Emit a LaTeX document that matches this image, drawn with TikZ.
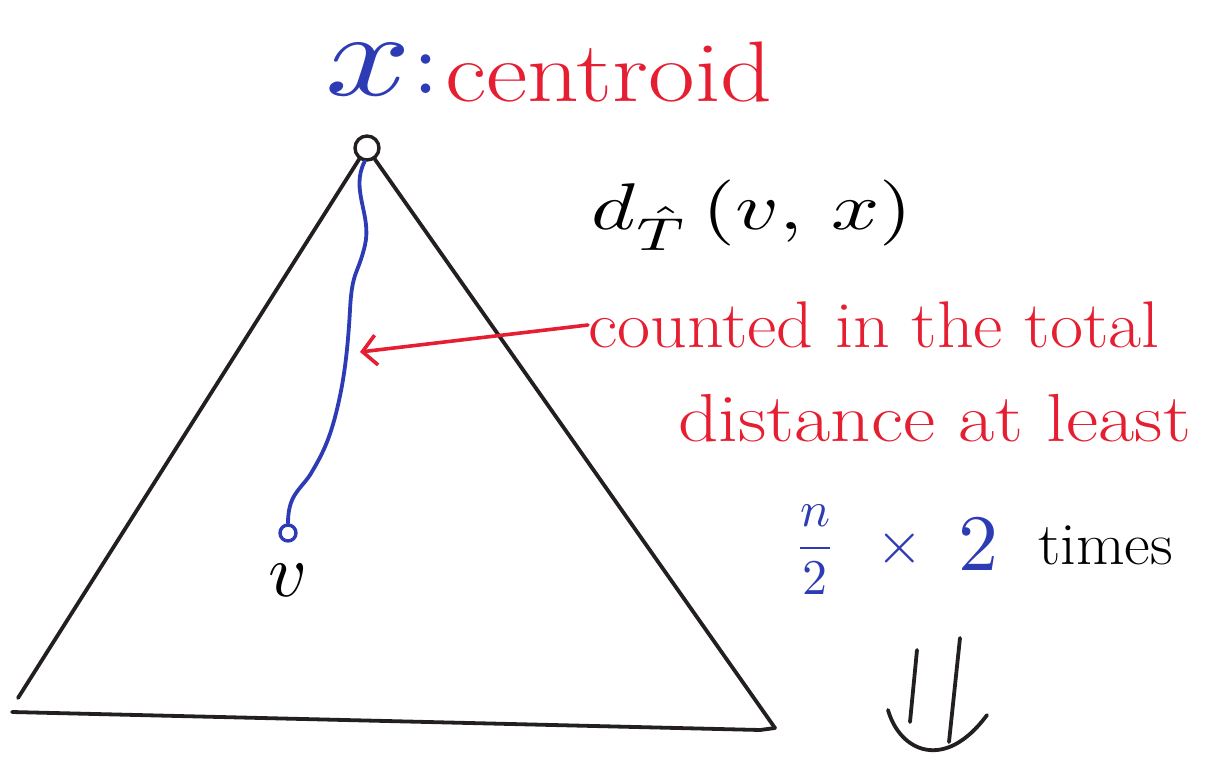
\documentclass[tikz,border=0pt]{standalone}
\usetikzlibrary{arrows.meta}
\definecolor{pen}{RGB}{35,31,32}
\definecolor{redpen}{RGB}{230,30,50}
\definecolor{bluepen}{RGB}{45,60,180}
\begin{document}
\begin{tikzpicture}[x=1pt,y=-1pt,
  line/.style={draw=pen,line width=3.8pt,line cap=round},
  bline/.style={draw=bluepen,line width=3.8pt,line cap=round,line join=round},
  vcirc/.style={circle,draw,line width=3.4pt,inner sep=0pt,minimum size=#1},
  lbl/.style={inner sep=0pt,anchor=west}]
\useasboundingbox (0,0) rectangle (1232,765);
% triangle
\node[vcirc=24pt,draw=pen] (xc) at (367,148) {};
\coordinate (bl) at (18,698);
\coordinate (bl2) at (12,712);
\coordinate (br) at (775,728);
\draw[line] (xc.-125) -- (bl);
\draw[line] (xc.-55) -- (br);
\draw[line] (bl2) -- (760,730) -- (br);
% blue path
\node[vcirc=16pt,draw=bluepen] (vc) at (288,533) {};
\draw[bline] (xc.-100) .. controls (350,190) and (372,215) .. (365,245)
  .. controls (358,275) and (352,270) .. (350,310)
  .. controls (348,345) and (345,375) .. (338,405)
  .. controls (330,440) and (322,455) .. (310,475)
  .. controls (300,490) and (288,495) .. (vc.north);
\node[scale=7.5] (vl) at (288,580) {$v$};
% top label
\node[scale=12,xscale=1.25,text=bluepen] (xlab) at (368,70) {$x$};
\node[scale=9,text=bluepen] (colon) at (426,74) {:};
\node[lbl,text=redpen,xscale=1.18] (cent) at (445,72) {\fontsize{86}{100}\selectfont centroid};
% distance
\node[lbl,scale=6.6,xscale=1.28] (dlab) at (590,215) {$d_{\hat T}\,(v,\,x)$};
\node[lbl,text=redpen,xscale=1.09] (c1) at (588,325) {\fontsize{66}{80}\selectfont counted in the total};
\node[lbl,text=redpen,xscale=1.16] (c2) at (678,418) {\fontsize{68}{80}\selectfont distance at least};
\coordinate (pt) at (360,352);
\draw[draw=redpen,line width=3.6pt,line cap=round,-{Straight Barb[length=14pt,width=30pt,line width=3.6pt]}] (c1.west) -- (pt);
% n/2 x 2
\node[scale=5,text=bluepen] (frac) at (815,550) {$\displaystyle\frac{n}{2}$};
\node[scale=6,text=bluepen] (tm) at (900,548) {$\times$};
\node[scale=8,text=bluepen] (two) at (978,545) {$2$};
\node[lbl,xscale=1.05] (times) at (1038,545) {\fontsize{60}{70}\selectfont times};
% double arrow
\coordinate (a1t) at (917,650);
\coordinate (a2t) at (960,638);
\coordinate (hl) at (888,710);
\coordinate (hr) at (987,715);
\draw[line] (a1t) -- (910,722);
\draw[line] (a2t) -- (949,742);
\draw[line] (hl) .. controls (900,752) and (945,772) .. (hr);
\end{tikzpicture}
\end{document}
